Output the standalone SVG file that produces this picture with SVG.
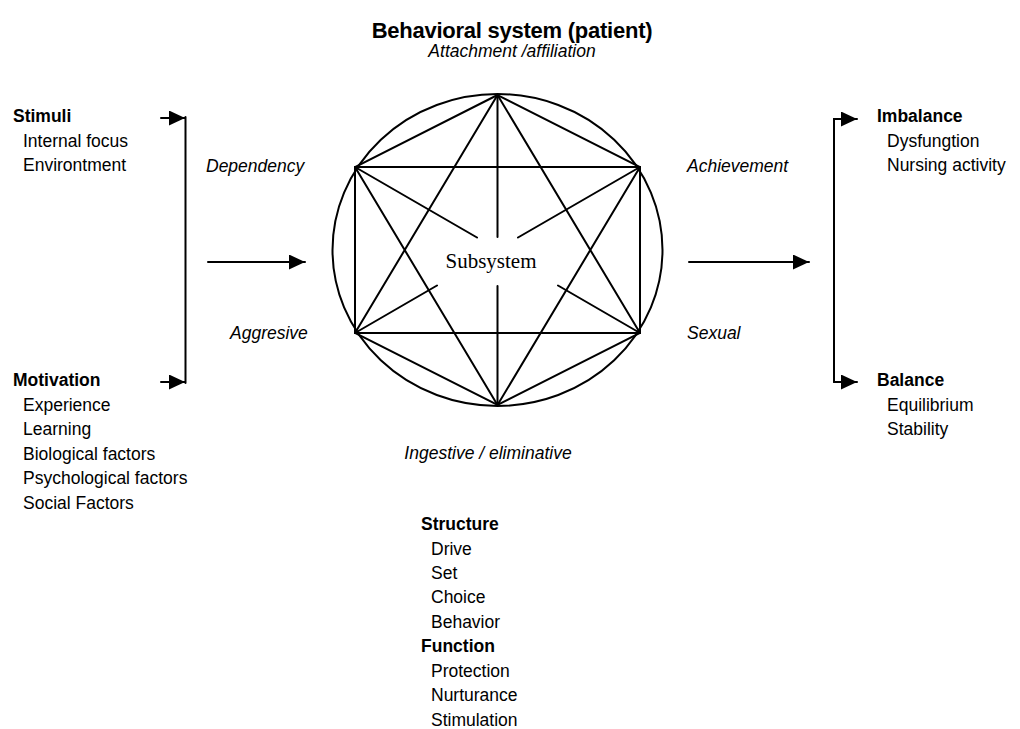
<svg xmlns="http://www.w3.org/2000/svg" width="1020" height="729" viewBox="0 0 1020 729">
<style>
text{font-family:"Liberation Sans",Arial,sans-serif;font-size:17.5px;fill:#000}
.b{font-weight:bold}
.i{font-style:italic}
.t{font-size:22px;font-weight:bold;letter-spacing:-0.25px}
.m{text-anchor:middle}
.sub{font-family:"Liberation Serif","Times New Roman",serif;font-size:21px}
.ln{stroke:#000;stroke-width:2;fill:none;stroke-linecap:round}
</style>
<defs>
<marker id="ah" markerUnits="userSpaceOnUse" markerWidth="17" markerHeight="16" refX="16" refY="7.5" orient="auto">
<path d="M0,0 L16,7.5 L0,15 Z" fill="#000"/>
</marker>
</defs>
<rect width="1020" height="729" fill="#fff"/>

<g id="title">
<text class="t m" x="512" y="38">Behavioral system (patient)</text>
<text class="i m" x="512" y="57">Attachment /affiliation</text>
</g>

<g id="subsystem-figure">
<ellipse class="ln" cx="497.5" cy="250" rx="165" ry="156"/>
<path class="ln" d="M497.5,95 L355,167 L355,333 L497.5,405 L640,333 L640,167 Z"/>
<path class="ln" d="M355,167 L640,167 M355,333 L640,333"/>
<path class="ln" d="M497.5,95 L355,333 M497.5,95 L640,333 M497.5,405 L355,167 M497.5,405 L640,167"/>
<path class="ln" d="M355,167 L477,237.5 M640,167 L518,237.5 M497.5,95 L497.5,237 M497.5,405 L497.5,286 M355,333 L437,285.5 M640,333 L558,285.5"/>
<text class="sub m" x="491" y="268">Subsystem</text>
</g>

<g id="stimuli">
<text class="b" x="13" y="122">Stimuli</text>
<text x="23" y="146.5">Internal focus</text>
<text x="23" y="171">Environtment</text>
</g>
<g id="motivation">
<text class="b" x="13" y="386">Motivation</text>
<text x="23" y="410.5">Experience</text>
<text x="23" y="435">Learning</text>
<text x="23" y="459.5">Biological factors</text>
<text x="23" y="484">Psychological factors</text>
<text x="23" y="508.5">Social Factors</text>
</g>

<g id="labels">
<text class="i" x="206" y="171.5">Dependency</text>
<text class="i" x="230" y="339">Aggresive</text>
<text class="i" x="687" y="171.5">Achievement</text>
<text class="i" x="687" y="339">Sexual</text>
<text class="i m" x="488" y="459">Ingestive / eliminative</text>
</g>

<g id="imbalance">
<text class="b" x="877" y="122">Imbalance</text>
<text x="887" y="146.5">Dysfungtion</text>
<text x="887" y="171">Nursing activity</text>
</g>
<g id="balance">
<text class="b" x="877" y="386">Balance</text>
<text x="887" y="410.5">Equilibrium</text>
<text x="887" y="435">Stability</text>
</g>

<g id="structure">
<text class="b" x="421" y="530">Structure</text>
<text x="431" y="554.5">Drive</text>
<text x="431" y="578.5">Set</text>
<text x="431" y="603">Choice</text>
<text x="431" y="627.5">Behavior</text>
<text class="b" x="421" y="652">Function</text>
<text x="431" y="676.5">Protection</text>
<text x="431" y="701">Nurturance</text>
<text x="431" y="725.5">Stimulation</text>
</g>

<g id="connectors">
<path class="ln" d="M185.5,117 L185.5,383"/>
<path class="ln" d="M161,118 L185,118" marker-end="url(#ah)"/>
<path class="ln" d="M161,382 L185,382" marker-end="url(#ah)"/>
<path class="ln" d="M208,262 L305,262" marker-end="url(#ah)"/>
<path class="ln" d="M689,262 L809,262" marker-end="url(#ah)"/>
<path class="ln" d="M834,382 L834,119 L857,119" marker-end="url(#ah)"/>
<path class="ln" d="M834,382 L857,382" marker-end="url(#ah)"/>
</g>
</svg>
